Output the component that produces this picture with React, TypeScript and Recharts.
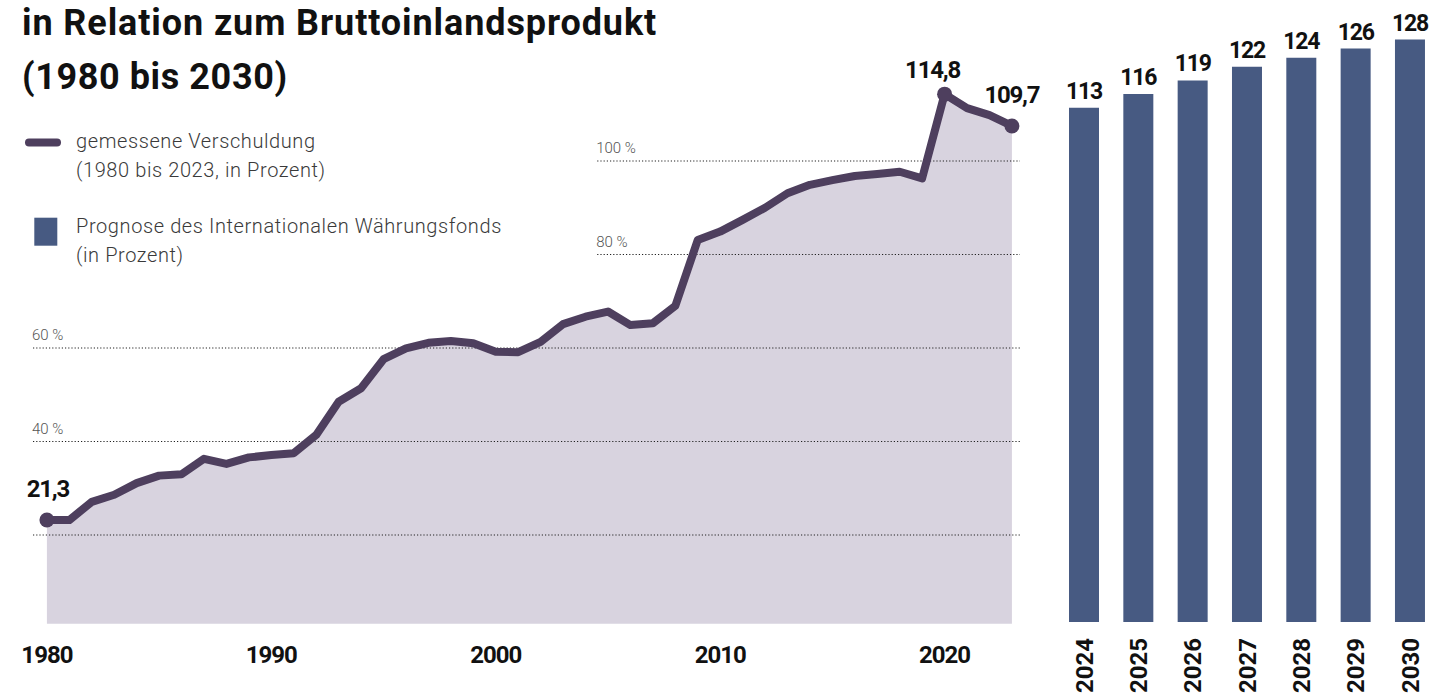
import React from "react";
import {
  ComposedChart,
  Area,
  Line,
  XAxis,
  YAxis,
  ReferenceLine,
  LabelList,
  BarChart,
  Bar,
} from "recharts";

// gemessene Verschuldung, 1980-2023 (as plotted, in % of GDP)
const YEARS = [
  1980, 1981, 1982, 1983, 1984, 1985, 1986, 1987, 1988, 1989, 1990, 1991, 1992, 1993, 1994,
  1995, 1996, 1997, 1998, 1999, 2000, 2001, 2002, 2003, 2004, 2005, 2006, 2007, 2008, 2009,
  2010, 2011, 2012, 2013, 2014, 2015, 2016, 2017, 2018, 2019, 2020, 2021, 2022, 2023,
];
const DEBT = [
  23.2, 23.2, 27.1, 28.6, 31.1, 32.7, 33.0, 36.3, 35.2, 36.6, 37.1, 37.5, 41.4, 48.5, 51.4,
  57.6, 59.9, 61.1, 61.5, 61.0, 59.2, 59.1, 61.3, 65.1, 66.7, 67.8, 64.9, 65.3, 69.0, 83.1,
  84.9, 87.4, 90.0, 93.1, 94.9, 95.9, 96.8, 97.2, 97.7, 96.3, 114.3, 111.3, 109.8, 107.5,
];
const LABEL_YEARS = [1980, 2020, 2023];
const LABEL_TEXTS = ["21,3", "114,8", "109,7"];
const X_TICKS = [1980, 1990, 2000, 2010, 2020];

// dotted guide lines
const GRID_VALUES = [20, 40, 60, 80, 100];
const GRID_LABELS = ["", "40 %", "60 %", "80 %", "100 %"];
const GRID_FROM_YEAR = [1979.38, 1979.38, 1979.38, 2004.52, 2004.52];

// IWF-Prognose
const FORECAST_YEARS = ["2024", "2025", "2026", "2027", "2028", "2029", "2030"];
const FORECAST = [113, 116, 119, 122, 124, 126, 128];

const LINE = "#4e3f5e";
const AREA = "#d8d3df";
const BAR = "#475a82";
const FONT = "Roboto, 'DejaVu Sans', sans-serif";

const X_DOMAIN: [number, number] = [1979.38, 2023.36];

const LABEL_SHIFT: Record<number, { dx: number; dy: number }> = {
  1980: { dx: 1, dy: -23 },
  2020: { dx: -12, dy: -16 },
  2023: { dx: 0, dy: -23 },
};

const debtData = YEARS.map((year, i) => {
  const k = LABEL_YEARS.indexOf(year);
  return { year, debt: DEBT[i], label: k >= 0 ? LABEL_TEXTS[k] : undefined };
});

const forecastData = FORECAST_YEARS.map((year, i) => ({ year, value: FORECAST[i] }));

function YearTick(props: any) {
  const { x, y, payload } = props;
  return (
    <text x={x} y={y + 34} textAnchor="middle" fontFamily={FONT} fontSize={24} fontWeight={700} letterSpacing={-1} fill="#111">
      {payload.value}
    </text>
  );
}

function RotatedTick(props: any) {
  const { x, y, payload } = props;
  return (
    <text
      x={x}
      y={y}
      dy="0.35em"
      transform={`rotate(-90, ${x}, ${y})`}
      textAnchor="end"
      fontFamily={FONT}
      fontSize={24}
      fontWeight={700}
      fill="#111"
    >
      {payload.value}
    </text>
  );
}

const renderDot = (props: any) => {
  const { cx, cy, payload, index } = props;
  if (!payload || !payload.label) return <g key={`dot-${index}`} />;
  return <circle key={`dot-${index}`} cx={cx} cy={cy} r={7.5} fill={LINE} />;
};

const renderPointLabel = (props: any) => {
  const { x, y, value, index } = props;
  if (!value) return null;
  const shift = LABEL_SHIFT[debtData[index].year] || { dx: 0, dy: -20 };
  return (
    <text
      x={x + shift.dx}
      y={y + shift.dy}
      textAnchor="middle"
      fontFamily={FONT}
      fontSize={24}
      fontWeight={700}
      letterSpacing={-1.2}
      fill="#111"
    >
      {value}
    </text>
  );
};

const renderBarLabel = (props: any) => {
  const { x, y, width, value } = props;
  return (
    <text
      x={x + width / 2}
      y={y - 9}
      textAnchor="middle"
      fontFamily={FONT}
      fontSize={23}
      fontWeight={700}
      letterSpacing={-1.2}
      fill="#111"
    >
      {value}
    </text>
  );
};

const gridLabel = (text: string) => (props: any) => {
  const vb = props.viewBox || {};
  if (!text) return null;
  return (
    <text x={(vb.x ?? 0) - 1} y={(vb.y ?? 0) - 8} fontFamily={FONT} fontSize={15} fontWeight={300} fill="#555">
      {text}
    </text>
  );
};

export default function App() {
  return (
    <div style={{ position: "relative", width: 1440, height: 695, overflow: "hidden", background: "#fff", fontFamily: FONT }}>
      <style>{"body{margin:0}"}</style>

      <div style={{ position: "absolute", left: 0, top: 0 }}>
        <ComposedChart width={1440} height={695} data={debtData} margin={{ top: 20.75, right: 420, bottom: 26.5, left: 33 }}>
          <XAxis
            dataKey="year"
            type="number"
            domain={X_DOMAIN}
            allowDataOverflow
            ticks={X_TICKS}
            interval={0}
            axisLine={false}
            tickLine={false}
            tickSize={0}
            tickMargin={0}
            height={40}
            tick={<YearTick />}
          />
          <YAxis hide domain={[0, 130]} allowDataOverflow />
          <Area
            dataKey="debt"
            type="linear"
            stroke="none"
            fill={AREA}
            fillOpacity={1}
            baseValue={1}
            isAnimationActive={false}
          />
          {GRID_VALUES.map((v, i) => (
            <ReferenceLine
              key={v}
              segment={[
                { x: GRID_FROM_YEAR[i], y: v },
                { x: X_DOMAIN[1], y: v },
              ]}
              stroke="#222"
              strokeWidth={1.2}
              strokeDasharray="1.2 2"
              label={gridLabel(GRID_LABELS[i])}
            />
          ))}
          <Line
            dataKey="debt"
            type="linear"
            stroke={LINE}
            strokeWidth={8}
            strokeLinejoin="round"
            strokeLinecap="round"
            dot={renderDot}
            activeDot={false}
            isAnimationActive={false}
          >
            <LabelList dataKey="label" content={renderPointLabel} />
          </Line>
        </ComposedChart>
      </div>

      <div style={{ position: "absolute", left: 1040, top: 0 }}>
        <BarChart width={400} height={695} data={forecastData} margin={{ top: 30.4, right: 2.7, bottom: 13, left: 17 }}>
          <XAxis
            dataKey="year"
            axisLine={false}
            tickLine={false}
            tickSize={0}
            tickMargin={16}
            height={60}
            interval={0}
            tick={<RotatedTick />}
          />
          <YAxis hide domain={[0, 130]} />
          <Bar dataKey="value" fill={BAR} barSize={30} isAnimationActive={false}>
            <LabelList dataKey="value" content={renderBarLabel} />
          </Bar>
        </BarChart>
      </div>

      <svg width={720} height={280} style={{ position: "absolute", left: 0, top: 0 }}>
        <text x={22} y={35} fontFamily={FONT} fontSize={36} fontWeight={700} letterSpacing={0.9} fill="#111">
          in Relation zum Bruttoinlandsprodukt
        </text>
        <text x={22} y={89} fontFamily={FONT} fontSize={36} fontWeight={700} letterSpacing={0.6} fill="#111">
          (1980 bis 2030)
        </text>

        <line x1={29} x2={57} y1={142.5} y2={142.5} stroke={LINE} strokeWidth={8} strokeLinecap="round" />
        <text x={76} y={148} fontFamily={FONT} fontSize={20} fontWeight={300} letterSpacing={0.6} fill="#3a3a3a">
          gemessene Verschuldung
        </text>
        <text x={76} y={177} fontFamily={FONT} fontSize={20} fontWeight={300} letterSpacing={0.6} fill="#3a3a3a">
          (1980 bis 2023, in Prozent)
        </text>

        <rect x={34.3} y={217.7} width={23} height={28} fill={BAR} />
        <text x={76} y={233} fontFamily={FONT} fontSize={20} fontWeight={300} letterSpacing={0.6} fill="#3a3a3a">
          Prognose des Internationalen Währungsfonds
        </text>
        <text x={76} y={262} fontFamily={FONT} fontSize={20} fontWeight={300} letterSpacing={0.6} fill="#3a3a3a">
          (in Prozent)
        </text>
      </svg>
    </div>
  );
}
